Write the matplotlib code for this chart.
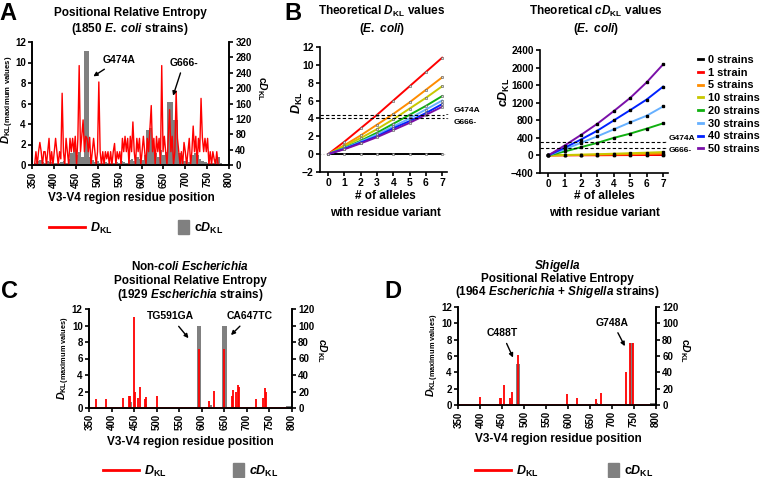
import numpy as np
import matplotlib.pyplot as plt
from matplotlib.lines import Line2D
from matplotlib.patches import Patch

plt.rcParams['font.family'] = ['Liberation Sans', 'DejaVu Sans']
plt.rcParams['font.weight'] = 'bold'
plt.rcParams['mathtext.fontset'] = 'custom'
plt.rcParams['mathtext.rm'] = 'Liberation Sans:bold'
plt.rcParams['mathtext.it'] = 'Liberation Sans:italic:bold'
plt.rcParams['mathtext.bf'] = 'Liberation Sans:bold'
plt.rcParams['axes.linewidth'] = 1.2

RED = '#ff0000'
GREY = '#808080'

# ---- panel A: 1850 E. coli strains ----
pos_a = np.arange(355, 779, 3)
dkl_a = [0, 1.3, 0, 1.3, 2.2, 1.3, 0, 1.3, 1.3, 0,
         1.3, 2.6, 0, 1.3, 0, 1.3, 2.6, 1.3, 0, 1.3,
         0.6, 7.0, 1.3, 0, 2.6, 1.3, 0, 2.6, 1.3, 2.6,
         1.3, 2.8, 0, 2.6, 9.7, 1.3, 2.8, 4.4, 1.3, 2.8,
         2.6, 1.3, 2.7, 0, 1.3, 2.6, 1.3, 0, 1.3, 8.1,
         1.3, 0, 1.3, 0, 1.3, 0.6, 1.3, 0, 1.3, 0,
         1.3, 2.1, 0, 1.3, 0.6, 1.3, 0, 2.6, 1.3, 2.8,
         1.3, 2.6, 0, 2.8, 1.3, 4.2, 1.3, 0, 2.6, 1.3,
         2.6, 0, 1.3, 2.8, 1.3, 0, 2.6, 1.3, 3.6, 5.8,
         1.3, 2.6, 0, 2.8, 1.3, 2.6, 0, 9.7, 1.3, 2.8,
         1.3, 0, 2.6, 5.4, 1.3, 2.8, 0, 1.3, 7.2, 2.6,
         1.3, 0, 1.3, 0, 2.2, 1.3, 0, 1.3, 2.6, 0,
         1.3, 3.8, 1.3, 2.8, 0, 2.6, 1.3, 6.5, 2.7, 1.3,
         2.6, 1.3, 2.6, 0, 1.3, 0, 1.3, 0.6, 0, 1.3,
         0, 0]
cpos_a = np.arange(356, 783, 6)
cdkl_a = [5, 10, 12, 8, 5, 10, 8, 5, 4, 6,
          8, 10, 6, 15, 30, 45, 25, 35, 20, 296,
          296, 20, 12, 8, 10, 6, 5, 8, 5, 6,
          5, 8, 6, 10, 8, 5, 12, 15, 10, 20,
          15, 12, 25, 90, 95, 50, 30, 20, 40, 25,
          35, 163, 163, 117, 117, 30, 15, 10, 12, 8,
          25, 30, 25, 15, 10, 8, 5, 6, 4, 15,
          20, 5]

# ---- panel B: theoretical values ----
alleles = np.arange(0, 8)
strain_labels = ['0 strains', '1 strain', '5 strains', '10 strains',
                 '20 strains', '30 strains', '40 strains', '50 strains']
strain_colors = ['black', '#ff0000', '#ff8c00', '#c8c800',
                 '#10b010', '#66b0ff', '#0022ff', '#7a10a8']
dkl_theory = [
    [0, 0, 0, 0, 0, 0, 0, 0],
    [0, 1.4, 2.9, 4.4, 6.0, 7.6, 9.2, 10.8],
    [0, 1.0, 2.1, 3.3, 4.5, 5.8, 7.2, 8.6],
    [0, 0.9, 1.8, 2.8, 3.9, 5.1, 6.3, 7.6],
    [0, 0.7, 1.5, 2.4, 3.4, 4.4, 5.4, 6.5],
    [0, 0.65, 1.4, 2.2, 3.1, 4.0, 5.0, 6.0],
    [0, 0.6, 1.3, 2.0, 2.9, 3.7, 4.6, 5.6],
    [0, 0.55, 1.2, 1.9, 2.7, 3.5, 4.4, 5.3],
]
cdkl_theory = [
    [0, 0, 0, 0, 0, 0, 0, 0],
    [0, 1, 3, 4, 6, 8, 9, 11],
    [0, 5, 11, 17, 23, 29, 36, 43],
    [0, 9, 18, 28, 39, 51, 63, 76],
    [0, 90, 188, 287, 400, 497, 610, 730],
    [0, 140, 287, 436, 594, 753, 904, 1114],
    [0, 175, 362, 565, 798, 1032, 1273, 1566],
    [0, 226, 467, 723, 1010, 1311, 1665, 2072],
]
obs_names = ['G474A', 'G666-']
obs_dkl = [4.35, 4.05]
obs_cdkl = [296, 163]

# ---- panel C: 1929 Escherichia strains ----
spike_pos_c = [365, 387, 424, 438, 441, 449, 451, 458, 463, 473, 476, 500,
               593, 616, 626, 649, 667, 669, 675, 680, 682, 720, 736, 740, 742]
spike_dkl_c = [1.1, 1.15, 1.2, 1.45, 1.45, 11.0, 2.0, 1.2, 2.6, 1.1, 1.3, 1.4,
               7.1, 0.8, 2.1, 7.1, 1.4, 2.2, 2.0, 2.75, 2.6, 1.1, 1.2, 2.4, 2.0]
bar_pos_c = [443, 476, 593, 620, 650, 793]
bar_width_c = [4, 3, 10, 3, 9, 14]
bar_cdkl_c = [7, 5, 100, 4, 100, 3]

# ---- panel D: 1964 Escherichia + Shigella strains ----
spike_pos_d = [398, 445, 448, 454, 468, 472, 486, 598, 621, 663, 675, 731, 741, 747]
spike_dkl_d = [1.0, 0.85, 0.8, 2.45, 0.9, 1.6, 6.1, 1.35, 0.9, 0.7, 1.45, 4.0, 7.6, 7.6]
bar_pos_d = [398, 485.5, 666, 731, 744, 793]
bar_width_d = [4, 9, 3, 3, 8, 14]
bar_cdkl_d = [5, 50, 3, 5, 76, 2]

fig = plt.figure(figsize=(7.6, 4.78), dpi=100)
W, H = 760.0, 478.0


def rect(x0, y0, x1, y1):
    return [x0 / W, 1 - y1 / H, (x1 - x0) / W, (y1 - y0) / H]


def ftext(x, y, s, **kw):
    fig.text(x / W, 1 - y / H, s, **kw)


def style(ax, size=7):
    ax.tick_params(direction='out', length=3, width=1.2, labelsize=size, pad=1.5)
    for lab in ax.get_xticklabels() + ax.get_yticklabels():
        lab.set_fontweight('bold')


def entropy_axes(r, rmax, rstep):
    ax = fig.add_axes(r)
    ax2 = ax.twinx()
    ax.set_xlim(349, 800)
    ax.set_ylim(0, 12)
    ax.set_yticks(np.arange(0, 13, 2))
    ax.set_xticks(np.arange(350, 801, 50))
    ax2.set_ylim(0, rmax)
    ax2.set_yticks(np.arange(0, rmax + 1, rstep))
    for a in (ax, ax2):
        a.spines['top'].set_visible(False)
        style(a)
    ax.tick_params(axis='x', labelrotation=90)
    ax.set_zorder(ax2.get_zorder() + 1)
    ax.patch.set_visible(False)
    return ax, ax2


def legend_pair(ax, y, xl, xp, ital_c):
    h1 = [Line2D([], [], color=RED, lw=2)]
    l1 = ax.legend(h1, [r'$D_{\rm KL}$'], loc='center left',
                   bbox_to_anchor=(xl / W, 1 - y / H), bbox_transform=fig.transFigure,
                   frameon=False, handlelength=2.9, handletextpad=0.4,
                   borderpad=0, borderaxespad=0, fontsize=9)
    ax.add_artist(l1)
    lab = r'$cD_{\rm KL}$' if ital_c else r'c$D_{\rm KL}$'
    h2 = [Patch(facecolor=GREY, edgecolor=GREY)]
    ax.legend(h2, [lab], loc='center left',
              bbox_to_anchor=(xp / W, 1 - y / H), bbox_transform=fig.transFigure,
              frameon=False, handlelength=0.9, handleheight=1.3, handletextpad=0.4,
              borderpad=0, borderaxespad=0, fontsize=9)


# ================= panel A =================
axA, axA2 = entropy_axes(rect(32, 42, 229, 165), 320, 40)
axA2.bar(cpos_a, cdkl_a, width=6, color=GREY, linewidth=0)
axA.plot(pos_a, dkl_a, color=RED, lw=1.0)
axA.annotate('G474A', xy=(484, 8.5), xytext=(510, 10.25), fontsize=7.5,
             fontweight='bold', va='center',
             arrowprops=dict(arrowstyle='-|>', color='black', lw=1, mutation_scale=6))
axA.annotate('G666-', xy=(670, 6.5), xytext=(664, 10.0), fontsize=7.5,
             fontweight='bold', va='center',
             arrowprops=dict(arrowstyle='-|>', color='black', lw=1, mutation_scale=6))
ftext(8, 13, 'A', fontsize=17, fontweight='bold', ha='center', va='center')
ftext(130, 13, 'Positional Relative Entropy', fontsize=8.5, ha='center', va='center')
ftext(130, 29, r'(1850 $E.\ coli$ strains)', fontsize=8.5, ha='center', va='center')
ftext(131, 198, 'V3-V4 region residue position', fontsize=8.5, ha='center', va='center')
ftext(8, 100, r'$D_{\rm KL}$$_{\rm (maximum\ values)}$', fontsize=8,
      rotation=90, ha='center', va='center')
ftext(262, 88, r'c$D_{\rm KL}$', fontsize=7.5, rotation=270, ha='center', va='center')
legend_pair(axA, 228, 49, 178, False)

# ================= panel B left =================
axB = fig.add_axes(rect(320, 47, 447, 172))
axB.axhline(0, color='#c0c0c0', lw=0.8, ls=':')
for vals, col in zip(dkl_theory, strain_colors):
    axB.plot(alleles, vals, color=col, lw=1.4, marker='s', ms=1.6,
             mfc='#dddddd', mec='#555555', mew=0.4)
axB.set_xlim(-0.5, 7.3)
axB.set_ylim(-2, 12)
axB.set_xticks(alleles)
axB.set_yticks(np.arange(-2, 13, 2))
axB.spines[['top', 'right']].set_visible(False)
style(axB, 7.5)
for yv, name, ty in zip(obs_dkl, obs_names, [4.9, 3.6]):
    axB.plot([-0.5, 7.1], [yv, yv], color='black', lw=0.8, ls=(0, (3, 2)), clip_on=False)
    axB.annotate(name, xy=(7.1, yv), xytext=(7.7, ty), fontsize=6, va='center',
                 annotation_clip=False,
                 arrowprops=dict(arrowstyle='-', color='black', lw=0.5, ls='--'))
ftext(293, 13, 'B', fontsize=17, fontweight='bold', ha='center', va='center')
ftext(382, 11, r'Theoretical $D_{\rm KL}$ values', fontsize=8.5, ha='center', va='center')
ftext(382, 29, r'($E.\ coli$)', fontsize=8.5, ha='center', va='center')
ftext(297, 103, r'$D_{\rm KL}$', fontsize=9, rotation=90, ha='center', va='center')
ftext(385, 196, '# of alleles', fontsize=8.5, ha='center', va='center')
ftext(385, 213, 'with residue variant', fontsize=8.5, ha='center', va='center')

# ================= panel B right =================
axR = fig.add_axes(rect(540, 50, 668, 173))
for vals, col, lab in zip(cdkl_theory, strain_colors, strain_labels):
    axR.plot(alleles, vals, color=col, lw=1.4, marker='s', ms=1.6,
             mfc='black', mec='black', label=lab)
axR.set_xlim(-0.5, 7.3)
axR.set_ylim(-400, 2400)
axR.set_xticks(alleles)
axR.set_yticks(np.arange(-400, 2401, 400))
axR.spines[['top', 'right']].set_visible(False)
style(axR, 7.2)
for yv, name, ty in zip(obs_cdkl, obs_names, [384, 113]):
    axR.plot([-0.5, 7.1], [yv, yv], color='black', lw=0.8, ls=(0, (3, 2)), clip_on=False)
    axR.annotate(name, xy=(7.1, yv), xytext=(7.35, ty), fontsize=6, va='center',
                 annotation_clip=False,
                 arrowprops=dict(arrowstyle='-', color='black', lw=0.5, ls='--'))
handles = [Line2D([], [], color=c, lw=2) for c in strain_colors]
axR.legend(handles, strain_labels, loc='upper left', bbox_to_anchor=(698 / W, 1 - 55 / H),
           bbox_transform=fig.transFigure, frameon=False, fontsize=7.9,
           handlelength=0.5, handletextpad=0.4, labelspacing=0.25,
           borderpad=0, borderaxespad=0)
ftext(596, 11, r'Theoretical $cD_{\rm KL}$ values', fontsize=8.5, ha='center', va='center')
ftext(596, 29, r'($E.\ coli$)', fontsize=8.5, ha='center', va='center')
ftext(504, 92, r'$cD_{\rm KL}$', fontsize=9, rotation=90, ha='center', va='center')
ftext(604, 196, '# of alleles', fontsize=8.5, ha='center', va='center')
ftext(604, 213, 'with residue variant', fontsize=8.5, ha='center', va='center')

# ================= panel C =================
axC, axC2 = entropy_axes(rect(89, 309, 292, 408), 120, 20)
axC2.bar(bar_pos_c, bar_cdkl_c, width=bar_width_c, color=GREY, linewidth=0)
axC.hlines(0, 352, 788, color=RED, lw=1.2)
axC.vlines(spike_pos_c, 0, spike_dkl_c, color=RED, lw=1.3)
axC.annotate('TG591GA', xy=(574, 8.2), xytext=(530, 11.1), fontsize=7.5,
             fontweight='bold', ha='center', va='center',
             arrowprops=dict(arrowstyle='-|>', color='black', lw=1, mutation_scale=6))
axC.annotate('CA647TC', xy=(660, 8.6), xytext=(706, 11.1), fontsize=7.5,
             fontweight='bold', ha='center', va='center',
             arrowprops=dict(arrowstyle='-|>', color='black', lw=1, mutation_scale=6))
ftext(10, 292, 'C', fontsize=17, fontweight='bold', ha='center', va='center')
ftext(190, 267, r'Non-$coli$ $Escherichia$', fontsize=8.5, ha='center', va='center')
ftext(190, 281, 'Positional Relative Entropy', fontsize=8.5, ha='center', va='center')
ftext(190, 295, r'(1929 $Escherichia$ strains)', fontsize=8.5, ha='center', va='center')
ftext(190, 442, 'V3-V4 region residue position', fontsize=8.5, ha='center', va='center')
ftext(64, 358, r'$D_{\rm KL}$$_{\rm (maximum\ values)}$', fontsize=7.6,
      rotation=90, ha='center', va='center')
ftext(322, 350, r'$cD_{\rm KL}$', fontsize=7.5, rotation=270, ha='center', va='center')
legend_pair(axC, 471, 103, 233, True)

# ================= panel D =================
axD, axD2 = entropy_axes(rect(458, 307, 656, 405), 120, 20)
axD2.bar(bar_pos_d, bar_cdkl_d, width=bar_width_d, color=GREY, linewidth=0)
axD.hlines(0, 352, 786, color=RED, lw=1.2)
axD.vlines(spike_pos_d, 0, spike_dkl_d, color=RED, lw=1.3)
axD.annotate('C488T', xy=(477, 5.5), xytext=(449, 8.8), fontsize=7.5,
             fontweight='bold', ha='center', va='center',
             arrowprops=dict(arrowstyle='-|>', color='black', lw=1, mutation_scale=6))
axD.annotate('G748A', xy=(732, 6.9), xytext=(701, 10.1), fontsize=7.5,
             fontweight='bold', ha='center', va='center',
             arrowprops=dict(arrowstyle='-|>', color='black', lw=1, mutation_scale=6))
ftext(393, 292, 'D', fontsize=17, fontweight='bold', ha='center', va='center')
ftext(557, 266, r'$Shigella$', fontsize=8.5, ha='center', va='center')
ftext(557, 279, 'Positional Relative Entropy', fontsize=8.5, ha='center', va='center')
ftext(557, 292, r'(1964 $Escherichia$ + $Shigella$ strains)', fontsize=8.5,
      ha='center', va='center')
ftext(558, 439, 'V3-V4 region residue position', fontsize=8.5, ha='center', va='center')
ftext(433, 355, r'$D_{\rm KL}$$_{\rm (maximum\ values)}$', fontsize=7.6,
      rotation=90, ha='center', va='center')
ftext(685, 350, r'c$D_{\rm KL}$', fontsize=7.5, rotation=270, ha='center', va='center')
legend_pair(axD, 471, 475, 608, False)

fig.savefig('out.png', dpi=100)
